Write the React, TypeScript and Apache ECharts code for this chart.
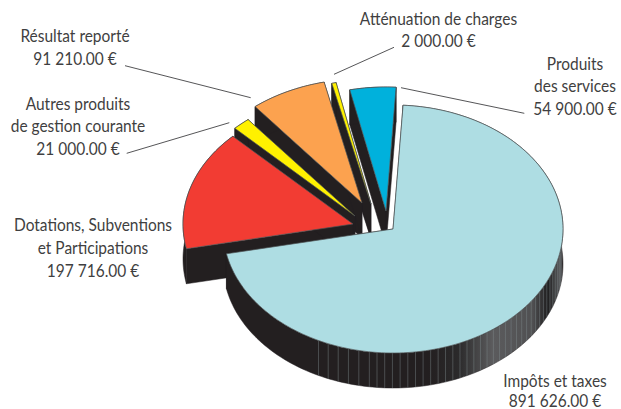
import React, { useEffect, useRef } from "react";
import * as echarts from "echarts";

// Back-to-front, counter-clockwise from the top of the pie
const categories = ["Produits des services", "Atténuation de charges", "Résultat reporté", "Autres produits de gestion courante", "Dotations, Subventions et Participations", "Impôts et taxes"];
const values = [54900, 2000, 91210, 21000, 197716, 891626];
const valueLabels = ["54 900.00 €", "2 000.00 €", "91 210.00 €", "21 000.00 €", "197 716.00 €", "891 626.00 €"];
const nameLines = [["Produits", "des services"], ["Atténuation de charges"], ["Résultat reporté"], ["Autres produits", "de gestion courante"], ["Dotations, Subventions", "et Participations"], ["Impôts et taxes"]];
const sliceColors = ["#00b1dc", "#fff100", "#fca24f", "#fff100", "#f23c33", "#aedde3"];

const RX = 170, RY = 124, DEPTH = 35, START = 363.4, MIN_SPAN = 1.5;
const BLACK = "#231f20", EDGE = "#4f5456";
const apexes = [[386, 211], [371, 204], [362, 203], [355, 216], [353, 224], [393, 229]];
const labelAnchors = [[575, 63], [438.5, 18], [75, 35], [78, 103], [93, 224], [555, 380.5]];
const lineHeights = [22.5, 22.5, 22.7, 22.4, 23, 19.8];
const leaders = [
  [[401, 87.7], [524.3, 113.3]],
  [[394, 47.3], [334, 74.3]],
  [[125, 65.7], [250.7, 97.7]],
  [[126.7, 153.3], [229.3, 122.7]],
];
const TEXT = "#3f3f41";
const FONT = "Lato";

const total = values.reduce((a, b) => a + b, 0);
const spans: number[][] = [];
{
  let end = START;
  values.forEach((v) => {
    const s = (v / total) * 360;
    spans.push([end - s, end]);
    end -= s;
  });
}

function pt(a: number[], deg: number, dy = 0) {
  const r = (deg * Math.PI) / 180;
  return [a[0] + RX * Math.sin(r), a[1] - RY * Math.cos(r) + dy];
}
function arc(a: number[], s: number, e: number, dy = 0) {
  const n = Math.max(2, Math.ceil((e - s) / 1.5));
  const out: number[][] = [];
  for (let i = 0; i <= n; i++) out.push(pt(a, s + ((e - s) * i) / n, dy));
  return out;
}

function renderItem(params: any, api: any) {
  const i = params.dataIndex;
  api.value(0);
  let [s, e] = spans[i];
  if (e - s < MIN_SPAN) {
    const m = (s + e) / 2;
    s = m - MIN_SPAN / 2;
    e = m + MIN_SPAN / 2;
  }
  const a = apexes[i];
  const top = arc(a, s, e);
  const bot = arc(a, s, e, DEPTH).reverse();
  const isMain = i === values.length - 1;
  const wallFill: any = isMain
    ? new echarts.graphic.LinearGradient(0, 0, 1, 0, [
        { offset: 0, color: BLACK },
        { offset: 0.6, color: BLACK },
        { offset: 0.69, color: "#2b2a2b" },
        { offset: 0.79, color: "#5b5b5d" },
        { offset: 0.91, color: "#505052" },
        { offset: 0.955, color: "#1f1e1f" },
        { offset: 0.99, color: "#555557" },
        { offset: 1, color: BLACK },
      ])
    : BLACK;
  const children: any[] = [];
  const edgeWall = (deg: number) => ({
    type: "polygon",
    shape: { points: [a, pt(a, deg), pt(a, deg, DEPTH), [a[0], a[1] + DEPTH]] },
    style: { fill: BLACK, stroke: BLACK, lineWidth: 0.5 },
  });
  children.push(edgeWall(s), edgeWall(e));
  children.push({
    type: "polygon",
    shape: { points: [...top, ...bot] },
    style: { fill: wallFill, stroke: BLACK, lineWidth: 0.5 },
  });
  if (isMain) {
    for (let d = 206; d > 97; d -= d > 190 ? 3.6 : 2.6) {
      const p = pt(a, d), q = pt(a, d, DEPTH);
      children.push({
        type: "line",
        shape: { x1: p[0], y1: p[1], x2: q[0], y2: q[1] },
        style: { stroke: "#7d898b", lineWidth: 0.6, opacity: 0.75 },
      });
    }
  }
  children.push({
    type: "polygon",
    shape: { points: [a, ...top] },
    style: { fill: sliceColors[i], stroke: EDGE, lineWidth: 0.7, lineJoin: "miter" },
  });
  return { type: "group", children };
}

function buildGraphic() {
  const els: any[] = [];
  categories.forEach((_, i) => {
    const lines = [...nameLines[i], valueLabels[i]];
    const [cx, y0] = labelAnchors[i];
    lines.forEach((t, k) => {
      els.push({
        type: "text",
        x: cx,
        y: y0 + k * lineHeights[i],
        scaleX: 0.9,
        style: { text: t, fill: TEXT, font: `17.2px ${FONT}`, align: "center", verticalAlign: "middle" },
      });
    });
  });
  leaders.forEach(([p, q]) => {
    els.push({
      type: "line",
      shape: { x1: p[0], y1: p[1], x2: q[0], y2: q[1] },
      style: { stroke: "#2a2a2c", lineWidth: 0.8 },
    });
  });
  return els;
}

export default function App() {
  const ref = useRef<HTMLDivElement>(null);
  useEffect(() => {
    const chart = echarts.init(ref.current!, undefined, { renderer: "svg" });
    chart.setOption({
      animation: false,
      backgroundColor: "#ffffff",
      graphic: buildGraphic(),
      series: [
        {
          type: "custom",
          coordinateSystem: "none",
          renderItem,
          clip: false,
          data: values.map((v, i) => ({ name: categories[i], value: [v] })),
        },
      ],
    });
    return () => chart.dispose();
  }, []);
  return <div ref={ref} style={{ position: "fixed", left: 0, top: 0, width: 621, height: 409 }} />;
}
